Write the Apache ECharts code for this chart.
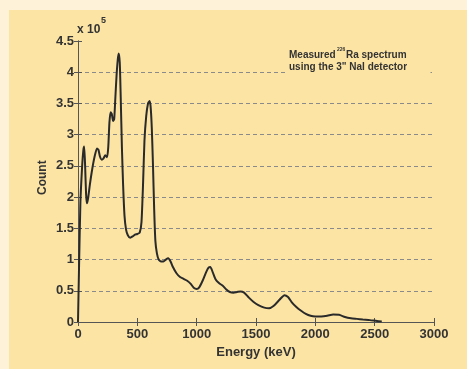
<!DOCTYPE html>
<html>
<head>
<meta charset="utf-8">
<script src="https://cdn.jsdelivr.net/npm/echarts@6/dist/echarts.min.js"></script>
<style>
html,body{margin:0;padding:0;background:#FEF2D9;}
#c{width:467px;height:369px;}
</style>
</head>
<body>
<div id="c"></div>
<script>
// Energy (keV)
var energy = [0,8,20,35,45,52,60,68,75,85,100,120,140,160,172,185,200,215,230,245,255,265,275,285,295,305,315,325,335,343,352,360,370,380,392,405,420,440,460,480,500,520,535,548,560,575,590,603,612,622,632,642,652,665,680,700,720,740,760,780,800,830,860,890,920,950,975,1000,1020,1050,1080,1100,1115,1135,1160,1190,1220,1250,1280,1310,1340,1370,1400,1440,1480,1520,1570,1610,1650,1700,1740,1770,1800,1840,1880,1920,1960,2000,2050,2100,2150,2200,2250,2300,2350,2400,2460,2520,2560];
// Count (x 10^5)
var count = [0,0.8,1.9,2.5,2.75,2.81,2.5,2.05,1.9,1.98,2.2,2.45,2.65,2.78,2.76,2.65,2.6,2.62,2.67,2.64,2.8,3.2,3.36,3.33,3.22,3.25,3.6,3.95,4.2,4.3,4.15,3.6,2.8,2.2,1.7,1.48,1.39,1.35,1.37,1.4,1.41,1.43,1.6,2.2,2.9,3.3,3.5,3.54,3.45,3.1,2.5,1.8,1.3,1.1,1.0,0.97,0.97,1.0,1.02,0.97,0.88,0.78,0.72,0.69,0.66,0.61,0.55,0.53,0.55,0.66,0.8,0.87,0.88,0.8,0.68,0.62,0.58,0.52,0.48,0.47,0.48,0.49,0.47,0.39,0.32,0.27,0.23,0.22,0.26,0.36,0.43,0.4,0.32,0.24,0.18,0.13,0.1,0.09,0.09,0.1,0.12,0.115,0.08,0.06,0.05,0.04,0.03,0.015,0.01];
var xTicks = [0,500,1000,1500,2000,2500,3000];
var yTicks = [0,0.5,1,1.5,2,2.5,3,3.5,4,4.5];

var pts = energy.map(function(e,i){return [e,count[i]];});
var chart = echarts.init(document.getElementById('c'), null, {renderer:'canvas'});
var FF = 'Liberation Sans';
var lab = {fontFamily:FF, fontWeight:'bold', fontSize:13, color:'#333'};
var axLine = {show:true, lineStyle:{color:'#555', width:1}};
function txt(l,t,s,fs){
  return {type:'text', z:20, left:l, top:t, style:{text:s, fontFamily:FF, fontWeight:'bold', fontSize:fs, fill:'#333'}};
}
chart.setOption({
  backgroundColor:'#FEF2D9',
  animation:false,
  grid:{left:78, right:33, top:41, bottom:47, containLabel:false},
  graphic:[
    {type:'rect', z:-10, shape:{x:9,y:10,width:458,height:359}, style:{fill:'#FCE4A4'}},
    {type:'rect', z:15, shape:{x:287,y:46,width:143.5,height:28}, style:{fill:'#FCE4A4'}},
    txt(77,24,'x 10',12),
    txt(101,16,'5',9),
    txt(289,50,'Measured',10),
    txt(337,47,'226',5),
    txt(346,50,'Ra spectrum',10),
    txt(289,62,'using the 3" NaI detector',10),
    {type:'text', z:20, x:37, y:195, rotation:Math.PI/2, style:{text:'Count', fontFamily:FF, fontWeight:'bold', fontSize:12, fill:'#333'}}
  ],
  xAxis:[
    {type:'value', min:xTicks[0], max:xTicks[xTicks.length-1], interval:500, position:'bottom',
     name:'Energy (keV)', nameLocation:'middle', nameGap:23, nameTextStyle:lab,
     axisLine:axLine, axisTick:{show:true, inside:true, length:4, lineStyle:{color:'#555'}},
     axisLabel:Object.assign({margin:6, formatter:function(v){return String(v);}}, lab), splitLine:{show:false}},
    {type:'value', min:xTicks[0], max:xTicks[xTicks.length-1], interval:500, position:'top',
     axisLine:axLine, axisTick:{show:true, inside:true, length:4, lineStyle:{color:'#555'}},
     axisLabel:{show:false}, splitLine:{show:false}}
  ],
  yAxis:[
    {type:'value', min:yTicks[0], max:yTicks[yTicks.length-1], interval:0.5, position:'left',
     axisLine:axLine, axisTick:{show:true, inside:true, length:4, lineStyle:{color:'#555'}},
     axisLabel:Object.assign({margin:4, formatter:function(v){return String(v);}}, lab),
     splitLine:{show:true, showMinLine:false, showMaxLine:false, lineStyle:{color:'#8a8a8a', type:[4,3], width:1}}},
    {type:'value', min:yTicks[0], max:yTicks[yTicks.length-1], interval:0.5, position:'right',
     axisLine:axLine, axisTick:{show:true, inside:true, length:4, lineStyle:{color:'#555'}},
     axisLabel:{show:false}, splitLine:{show:false}}
  ],
  series:[{type:'line', data:pts, xAxisIndex:0, yAxisIndex:0, showSymbol:false, smooth:0.2,
    lineStyle:{color:'#2a2a2a', width:2}}]
});
</script>
</body>
</html>
